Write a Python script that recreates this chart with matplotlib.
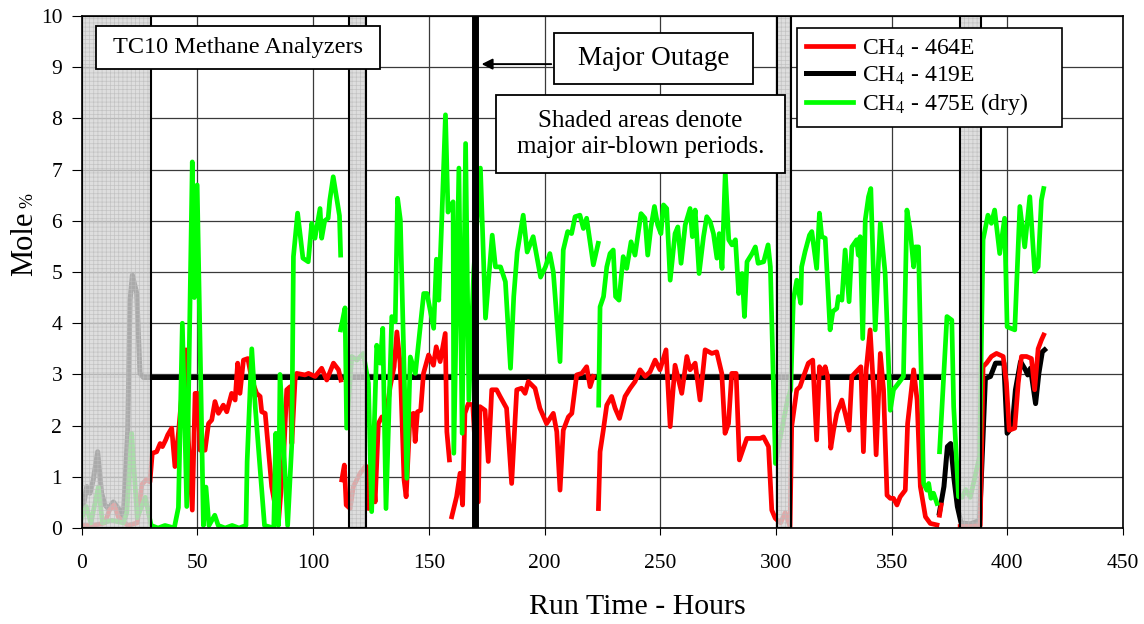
import numpy as np
import matplotlib
matplotlib.use("Agg")
import matplotlib.pyplot as plt
from matplotlib.patches import Rectangle

plt.rcParams["font.family"] = ["Liberation Serif", "DejaVu Serif"]
plt.rcParams["mathtext.fontset"] = "stix"
plt.rcParams["hatch.linewidth"] = 0.5

nan = np.nan

# CH4 - 464E (red)
red_t = [0, 5, 10, 12, 14, 16, 20, 24, 26, 28, 29.5, 30.5, 32.4, 33.9, 34.9, 36.3, 37.2, 38.9, 40.3, 41.8,
         43.2, 45.1, 46.1, 47.8, 49, 50.1, 51.2, 53.3, 54.8, 56.2, 57.6, 59.1, 61.2, 62.7, 64.8, 66.3, 67.4,
         68.4, 69.9, 71.8, 73.5, 75.6, 77.1, 77.8, 79.3, 82.1, 85, 87.2, 88.6, 90.1, 90.8, 92.2, 92.9, 96.5,
         98, 100.9, 103.7, 105.9, 108.8, 111, 112, 112.2, 112.4, 113.5, 114.3, 116, 117.4, 120.3, 122.5,
         123.2, 123.9, 125.8, 126.8, 128.2, 129.7, 131.5, 133.3, 135, 136.2, 137.6, 139.3, 140.2, 141.9,
         143.4, 144.1, 145.1, 146.5, 147.7, 149.9, 152, 153.2, 154.9, 157.1, 157.8, 158.9, 159.4, 159.9,
         162, 163.5, 164.6, 165.6, 167.1, 169, 171.4, 172.1, 174.3, 175.7, 177.2, 179.3, 180.8, 183.6,
         185.8, 188, 190.1, 191.6, 193, 195.9, 198, 200.9, 203.8, 205.3, 206.7, 208.1, 210.3, 211.8, 213.9,
         216.1, 218.2, 219.7, 221.1, 222.2, 223.3, 224, 225.4, 226.9, 229, 230.5, 232.4, 234.8, 237, 239.1,
         241.3, 243.5, 245.6, 247.8, 249.9, 252.5, 254.3, 256.4, 259.3, 261.5, 262.9, 265.1, 267.2, 269.4,
         272.3, 274.4, 276.6, 278, 279.5, 280.9, 282.8, 284.2, 287.4, 289.6, 293.2, 294.6, 296.8, 298.2,
         299.7, 302, 304, 306.1, 306.8, 309, 310.4, 311.9, 314, 315.9, 317.6, 318.8, 320.2, 321.3, 322.3,
         323.7, 324.9, 326.3, 328.5, 329.9, 331.6, 332.8, 334.6, 336.7, 337.8, 339, 340.7, 342.2, 343.3,
         345.1, 346.5, 348, 349.4, 350.8, 352.3, 353.7, 355.9, 356.9, 359.5, 361, 362.4, 364.6, 366.7,
         369.6, 370.1, 370.7, 371.4, 375, 379.6, 384, 388.3, 389.5, 391, 393.1, 395.3, 398.2, 399.6, 400.8,
         403.2, 404.7, 406.1, 408.3, 410.4, 411.8, 413.3, 414.7, 415.7]
red_v = [0.05, 0.05, 0.1, 0.35, 0.45, 0.2, 0.05, 0.1, 0.85, 0.95, 0.9, 1.46, 1.49, 1.65, 1.59, 1.72, 1.82, 1.95,
         1.2, 1.85, 2.57, 3.48, 1.72, 0.35, 2.63, 2.63, 1.52, 1.52, 2.04, 2.11, 2.47, 2.24, 2.4, 2.27, 2.63,
         2.5, 3.22, 2.63, 3.28, 3.31, 2.9, 2.63, 2.57, 2.27, 2.24, 0.81, 0.09, 1.33, 2.7, 2.76, 1.65, 2.89,
         3.02, 2.99, 3.02, 2.96, 3.12, 2.89, 3.22, 3.09, 2.89, nan, 0.94, 1.23, 0.45, 0.38, 0.81, 1.07, 1.2,
         1.2, 0.38, 1.17, 0.51, 2.04, 2.17, 2.17, 2.76, 3.15, 3.83, 3.22, 0.94, 0.61, 2.21, 2.24, 1.69, 2.27,
         2.3, 3.02, 3.38, 3.18, 3.54, 3.25, 3.8, 1.88, 1.33, nan, 0.22, 0.61, 1.07, 0.45, 2.24, 2.43, 2.4,
         0.51, 2.37, 2.3, 1.3, 2.7, 2.7, 2.57, 2.34, 0.87, 2.7, 2.73, 2.63, 2.86, 2.73, 2.34, 2.04, 2.24,
         1.88, 0.74, 1.91, 2.17, 2.24, 2.99, 3.02, 3.15, 2.76, 2.96, nan, 0.38, 1.49, 1.91, 2.4, 2.57, 2.34,
         2.14, 2.57, 2.73, 2.86, 3.09, 2.96, 3.05, 3.28, 3.09, 3.48, 1.98, 3.18, 2.63, 3.35, 3.09, 3.22, 2.5,
         3.48, 3.41, 3.44, 3.02, 1.85, 2.04, 3.02, 3.02, 1.33, 1.75, 1.75, 1.75, 1.78, 1.59, 0.35, 0.19,
         0.1, 0.3, 0.03, 1.98, 2.7, 2.76, 2.96, 3.22, 3.28, 1.72, 3.15, 3.02, 3.15, 2.96, 1.56, 1.91, 2.24,
         2.5, 2.24, 1.91, 2.96, 3.05, 3.15, 1.49, 3.09, 3.87, 2.7, 1.43, 3.41, 2.7, 0.64, 0.58, 0.58, 0.45,
         0.61, 0.74, 2.04, 3.09, 2.5, 0.81, 0.22, 0.09, 0.06, nan, 0.25, 0.45, nan, 0.03, 0.03, 0.05, 3.15,
         3.22, 3.35, 3.41, 3.35, 2.83, 1.91, 1.95, 2.83, 3.35, 3.35, 3.31, 2.7, 3.5, 3.67, 3.77]

# CH4 - 419E (black)
blk_t = [0, 1, 2.2, 3.6, 5, 6.9, 8.6, 10.1, 11.5, 13.7, 15.9, 18, 19.9, 20.9, 21.9, 23.8, 25.2, 26.7, 84, 85,
         86, 160, 164, 168, 370.4, 370.5, 370.6, 372.6, 374.1, 375.5, 377, 378.4, 380, 384, 388, 390.5,
         392.7, 394.9, 398.5, 399.9, 402.1, 403.5, 405.7, 407.8, 408.8, 410, 412.2, 413.6, 415.1, 416.1]
blk_v = [0.35, 0.5, 0.81, 0.68, 0.94, 1.49, 0.68, 0.45, 0.38, 0.51, 0.38, 0.22, 1.91, 4.45, 4.94, 4.58, 3.02,
         2.94, 2.94, nan, 2.94, 2.94, nan, 2.94, 2.94, nan, 0.29, 0.81, 1.59, 1.65, 0.94, 0.42, 0.1, 0.08,
         0.15, 2.92, 2.96, 3.22, 3.22, 1.85, 1.98, 2.7, 3.25, 3.09, 2.99, 3.12, 2.43, 3.02, 3.44, 3.48]

# CH4 - 475E dry (green)
grn_t = [0, 2, 4, 7.2, 9, 13, 18, 19.5, 21.6, 24, 27.5, 30, 33, 36, 40, 41.8, 43.5, 45.4, 47.8, 48.7, 49.9,
         52.6, 53.7, 55, 57.5, 59, 62, 65, 68, 71, 71.5, 73.5, 75, 79, 83, 83.9, 85, 85.7, 89, 90.8, 91.5,
         93.3, 95.6, 97.9, 99.4, 100.8, 103, 103.7, 105, 106.5, 107.2, 108.7, 111.4, 111.9, 111.9, 111.9,
         113.8, 114.5, 116.7, 118.9, 121.7, 123.9, 125.3, 127.5, 129, 130.1, 131.5, 134, 135.5, 136.5,
         137.7, 140.5, 142, 144.2, 146.3, 147.8, 149.2, 152.1, 153.3, 154.3, 155.7, 157.2, 158.3, 159.5,
         160.5, 160.8, 163, 164.4, 165.9, 167.3, 169.4, 172.3, 174.5, 177.4, 178.8, 181, 183.1, 185.3,
         186.7, 188.2, 190.8, 192.5, 195.1, 198.3, 200.4, 202.3, 203.8, 206.7, 208.1, 210, 211.7, 213.2,
         215.3, 216.8, 218.2, 221.1, 223.2, 223.3, 223.4, 224, 225.5, 226.9, 228.3, 229.7, 230.7, 232.2,
         234, 235.5, 237.4, 239.1, 241.7, 243.4, 244.6, 246, 247.5, 248.9, 250.3, 251.4, 252.8, 254.3,
         256.4, 257.6, 259, 260.8, 262.9, 263.9, 265.1, 266.8, 268.7, 270.1, 271.6, 273, 274.5, 275.5,
         276.7, 278.1, 279.6, 281, 282.5, 283.9, 285.4, 286.4, 287.5, 289.7, 291.1, 292.3, 294.7, 296.6,
         297.6, 299.8, 302, 305, 306.4, 307.5, 309, 310.7, 311.1, 312.6, 314.5, 315.5, 317.6, 318.8, 319.8,
         321.3, 323.4, 324.6, 326.3, 327, 328.5, 329.9, 331.6, 332.8, 334.9, 335.6, 336.4, 337.5, 338.6,
         340, 341, 342.9, 345.1, 347.2, 349.4, 350.8, 353, 355.1, 356.6, 358, 359.5, 360.2, 361.6, 363.8,
         365.2, 366, 367, 368.1, 369.6, 370.2, 370.7, 373.9, 376, 376.8, 378.9, 380.5, 382, 384, 386, 388,
         389.5, 391.6, 393.1, 394.5, 396.7, 398.8, 399.9, 403.2, 405.4, 407.5, 409.7, 411.8, 413.3, 414.7,
         415.7]
grn_v = [0.2, 0.42, 0.1, 0.8, 0.1, 0.15, 0.1, 0.3, 1.85, 0.2, 0.6, 0.05, 0.0, 0.05, 0.0, 0.4, 4.0, 0.42, 7.15,
         4.5, 6.7, 0.05, 0.8, 0.05, 0.25, 0.05, 0.0, 0.05, 0.0, 0.05, 1.3, 3.5, 2.37, 0.05, 0.0, 1.85, 0.05,
         3.0, 0.05, 1.65, 5.3, 6.15, 5.27, 5.2, 5.95, 5.66, 6.24, 5.66, 6.0, 6.05, 6.4, 6.86, 6.1, 5.33, nan,
         3.87, 4.3, 1.95, 3.35, 3.28, 3.41, 2.83, 0.32, 3.57, 3.22, 3.9, 0.38, 4.13, 4.03, 6.44, 6.02, 0.97,
         3.34, 3.02, 3.93, 4.58, 4.58, 3.9, 5.25, 4.45, 6.14, 8.07, 6.17, 6.3, 6.37, 1.46, 7.03, 1.85, 7.51,
         2.5, 5.0, 7.03, 4.1, 5.72, 5.1, 5.1, 4.81, 3.12, 4.52, 5.39, 6.11, 5.39, 5.69, 4.9, 5.1, 5.36, 5.0,
         3.25, 5.43, 5.79, 5.75, 6.08, 6.11, 5.85, 6.05, 5.14, 5.56, nan, 2.4, 4.32, 4.52, 5.1, 5.36, 5.43,
         4.52, 4.45, 5.3, 5.07, 5.59, 5.33, 6.14, 6.05, 5.33, 5.88, 6.28, 5.92, 5.75, 6.31, 6.24, 4.84, 5.75,
         5.88, 5.17, 5.92, 6.24, 5.69, 6.21, 4.97, 5.69, 6.08, 5.98, 5.75, 5.27, 5.75, 5.07, 6.95, 5.63, 5.53,
         5.63, 4.58, 4.97, 4.13, 5.2, 5.36, 5.49, 5.17, 5.2, 5.53, 5.1, 1.26, 1.8, 2.5, 2.7, 4.45, 4.84, 4.39,
         5.1, 5.4, 5.72, 5.79, 5.07, 6.15, 5.69, 5.66, 3.87, 4.23, 4.29, 4.52, 4.45, 5.43, 4.42, 5.49, 5.63,
         5.33, 5.69, 3.7, 6.02, 6.47, 6.63, 3.87, 5.95, 4.97, 2.3, 2.7, 2.83, 2.96, 6.21, 5.82, 5.1, 5.49,
         5.49, 0.87, 0.74, 0.87, 0.58, 0.68, 0.48, nan, 1.49, 4.13, 4.06, 2.37, 0.61, 0.6, 0.75, 0.6, 1.0,
         1.4, 5.63, 6.11, 5.95, 6.21, 5.36, 6.05, 3.93, 3.87, 6.28, 5.49, 6.47, 5.01, 5.1, 6.4, 6.63]

# air-blown periods (hours) and the outage time
air_blown = [(0, 30), (115.5, 122.9), (300.3, 306.4), (379.6, 388.5)]
outage_hr = 170

fig = plt.figure(figsize=(11.44, 6.24), dpi=100)
ax = fig.add_axes([0.0714, 0.1538, 0.9103, 0.8206])

ax.plot(blk_t, blk_v, color="black", lw=3.6, zorder=2.1, label="CH$_4$ - 419E")
ax.plot(red_t, red_v, color="#ff0000", lw=3.4, zorder=2.2, label="CH$_4$ - 464E")
ax.plot(grn_t, grn_v, color="#00ff00", lw=3.4, zorder=2.3, label="CH$_4$ - 475E (dry)")

for x0, x1 in air_blown:
    ax.axvspan(x0, x1, facecolor="#d6d6d6", alpha=0.8, hatch="++++", edgecolor="#bcbcbc",
               linewidth=0, zorder=3)
    ax.axvspan(x0, x1, facecolor="none", edgecolor="black", linewidth=1.5, zorder=3.1)

ax.axvline(outage_hr, color="black", lw=5, zorder=4)

ax.set_xlim(0, 450)
ax.set_ylim(0, 10)
ax.set_xticks(np.arange(0, 451, 50))
ax.set_yticks(np.arange(0, 11, 1))
ax.grid(True, color="#3a3a3a", lw=0.9)
ax.set_axisbelow(True)
ax.tick_params(axis="both", labelsize=15.5, color="black")
ax.tick_params(axis="x", length=5, pad=14)
ax.tick_params(axis="y", length=7, pad=7)
for s in ax.spines.values():
    s.set_linewidth(1.2)

# text boxes
ax.add_patch(Rectangle((6.05, 8.96), 122.85, 0.84, facecolor="white", edgecolor="black", lw=1.3, zorder=5))
ax.text(67.5, 9.38, "TC10 Methane Analyzers", fontsize=17.5, ha="center", va="center", zorder=6)

ax.add_patch(Rectangle((204.1, 8.67), 86.0, 1.0, facecolor="white", edgecolor="black", lw=1.3, zorder=5))
ax.text(247.1, 9.17, "Major Outage", fontsize=19.5, ha="center", va="center", zorder=6)
ax.annotate("", xy=(171.6, 9.06), xytext=(204.1, 9.06),
            arrowprops=dict(arrowstyle="-|>", color="black", lw=1.4, mutation_scale=16), zorder=6)

ax.add_patch(Rectangle((179.0, 6.93), 124.8, 1.53, facecolor="white", edgecolor="black", lw=1.3, zorder=5))
ax.text(241.4, 7.69, "Shaded areas denote\nmajor air-blown periods.", fontsize=18, ha="center",
        va="center", linespacing=1.25, zorder=6)

handles, labels = ax.get_legend_handles_labels()
order = [1, 0, 2]
leg = ax.legend([handles[i] for i in order], [labels[i] for i in order], loc="upper left",
                bbox_to_anchor=(0.6866, 0.7773, 0.2545, 0.1993), mode="expand", borderaxespad=0,
                fontsize=17, handlelength=2.0, handletextpad=0.35, labelspacing=0.2, borderpad=0.4,
                fancybox=False, framealpha=1, edgecolor="black")
leg.get_frame().set_linewidth(1.2)
leg.set_zorder(7)

fig.text(32 / 1144, 1 - 244 / 624, "Mole", rotation=90, rotation_mode="anchor", fontsize=22,
         ha="center", va="baseline")
fig.text(32 / 1144, 1 - 201 / 624, "%", rotation=90, rotation_mode="anchor", fontsize=13,
         ha="center", va="baseline")
fig.text(637 / 1144, 1 - 607 / 624, "Run Time - Hours", fontsize=21.5, ha="center", va="center")

fig.savefig("out.png", dpi=100)
